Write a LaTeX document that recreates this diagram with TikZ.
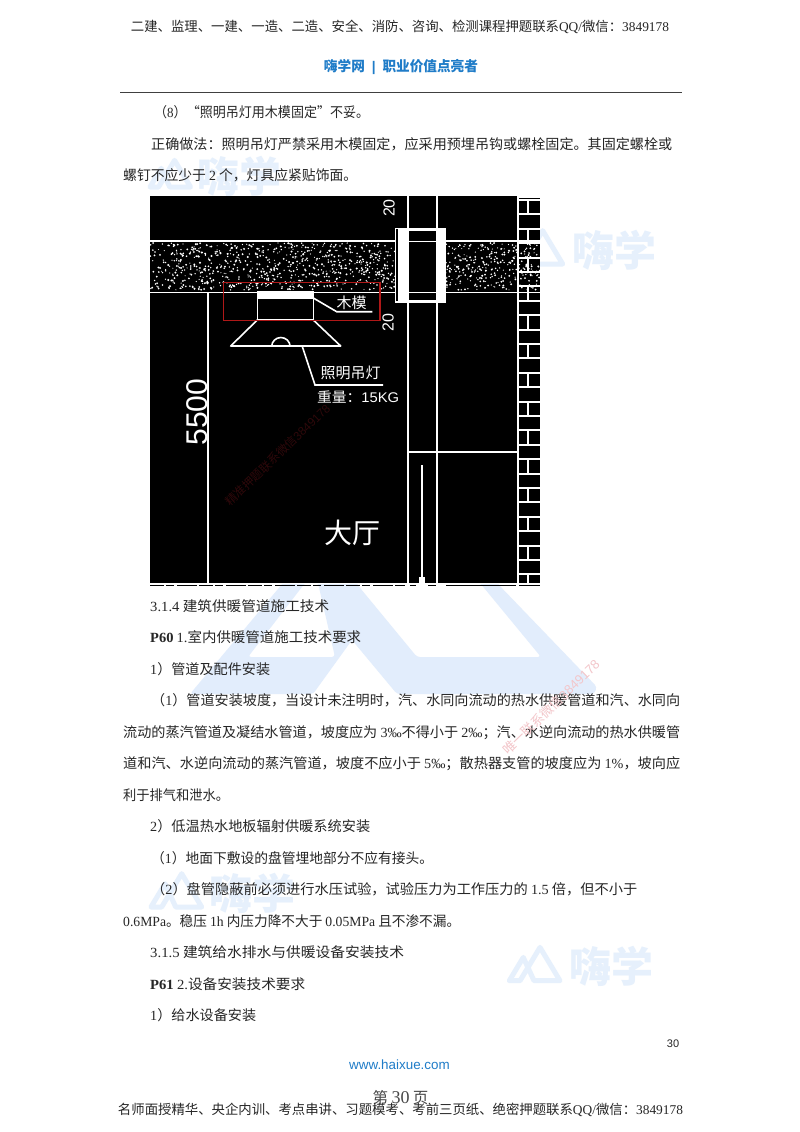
\documentclass[tikz,border=0pt]{standalone}
\usepackage{fontspec}
\usepackage{graphicx}
\setmainfont{Noto Sans CJK SC}
\newfontfamily\latf{Liberation Serif}
\newfontfamily\serb{Liberation Serif}[BoldFont={Liberation Serif Bold}]
\newfontfamily\sansl{Liberation Sans}
\newcommand\lat[1]{{\latf #1}}
\newcommand\pbold[1]{{\serb\bfseries #1}}
\definecolor{textcol}{HTML}{262626}
\definecolor{headblue}{HTML}{1F7CC8}
\definecolor{bigblue}{HTML}{E2EDFC}
\definecolor{wmblue}{HTML}{E6F0FC}
\definecolor{framered}{HTML}{B01818}
\definecolor{darkwm}{HTML}{2E080A}
\definecolor{pinkwm}{HTML}{F3C6CA}
\tikzset{
  tline/.style={anchor=west,inner sep=0pt,text=textcol,font=\fontsize{14}{16}\selectfont,text height=12pt,text depth=2pt},
  cline/.style={anchor=center,inner sep=0pt,text=textcol,font=\fontsize{13.4}{16}\selectfont},
  wall/.style={draw=white,line width=1.9pt},
  leader/.style={draw=white,line width=1.6pt},
  cad/.style={inner sep=0pt,text=white,font=\fontsize{15}{17}\selectfont},
  wmstroke/.style={draw=wmblue,line width=5pt,line join=round},
  wmtext/.style={inner sep=0pt,text=wmblue,font=\bfseries\fontsize{42}{44}\selectfont},
}
\newcommand\wmark[7]{%
  \begin{scope}[shift={(#1,#2)},scale=#3]
    \draw[wmstroke] (0,0)--(14,-23.3)--(24.7,0)--(50.7,0)--(30.7,-33.3)--(10.7,0)--cycle;
  \end{scope}
  \node[wmtext] (#7) at (#4,#5) {\resizebox{#6}{\height}{嗨学}};
}
\newcommand\tl[5]{\node[tline] (#1) at (#2,#3) {\resizebox{#4}{\height}{#5}};}
\begin{document}
\begin{tikzpicture}[x=1pt,y=-1pt]
\useasboundingbox (0,0) rectangle (800,1132);
\fill[white] (0,0) rectangle (800,1132);
% --- large logo watermark
\fill[bigblue,even odd rule,rounded corners=3pt]
  (190,694) -- (283,583) -- (300,560) -- (497,560) -- (497,583) -- (597,687) -- (594,694) -- (397,694) -- (352,640) -- (313,694) -- cycle
  (248,657) -- (335,657) -- (318,583) -- (305,583) -- cycle
  (417,657) -- (541,657) -- (480,583) -- (356,583) -- cycle;
% --- small logo watermarks
\wmark{150}{187}{0.8}{239}{176}{84pt}{wmA}
\wmark{512}{264}{1}{614}{250}{84pt}{wmB}
\wmark{151}{907}{1}{252}{893}{86pt}{wmC}
\wmark{509.3}{980.7}{1}{611}{966}{84pt}{wmD}
% --- header
\node[cline] (hA) at (400,26.5) {\resizebox{538pt}{\height}{二建、监理、一建、一造、二造、安全、消防、咨询、检测课程押题联系\lat{QQ/}微信：\lat{3849178}}};
\node[cline,text=headblue,font=\bfseries\fontsize{14}{16}\selectfont] (hB) at (401,66.5) {\resizebox{154pt}{\height}{嗨学网 {\sansl\bfseries\ |\ } 职业价值点亮者}};
\draw[color=black!75,line width=1pt] (120,92) -- (682,92);
% --- body text above the figure
\tl{a1}{154}{112}{215pt}{（\lat{8}）“照明吊灯用木模固定”不妥。}
\tl{a2}{151}{144}{521pt}{正确做法：照明吊灯严禁采用木模固定，应采用预埋吊钩或螺栓固定。其固定螺栓或}
\tl{a3}{123}{175}{234pt}{螺钉不应少于 \lat{2} 个，灯具应紧贴饰面。}
% --- figure
\fill[black] (150,196) rectangle (540,583);
% slab outlines
\draw[wall] (150,241) -- (395,241);
\draw[wall] (445,241) -- (540,241);
\draw[wall] (150,292.5) -- (395,292.5);
\draw[wall] (445,292.5) -- (540,292.5);
% slab aggregate
\pgfmathsetseed{4217}
\foreach \i in {1,...,780}{
  \pgfmathsetmacro\dx{150+245*rnd}
  \pgfmathsetmacro\dy{243+47*rnd}
  \pgfmathsetmacro\dr{0.55+0.55*rnd}
  \fill[white] (\dx,\dy) circle[radius=\dr pt];
}
\foreach \i in {1,...,230}{
  \pgfmathsetmacro\dx{445+72*rnd}
  \pgfmathsetmacro\dy{243+47*rnd}
  \pgfmathsetmacro\dr{0.55+0.55*rnd}
  \fill[white] (\dx,\dy) circle[radius=\dr pt];
}
\foreach \i in {1,...,70}{
  \pgfmathsetmacro\dx{519+21*rnd}
  \pgfmathsetmacro\dy{243+47*rnd}
  \pgfmathsetmacro\dr{0.55+0.55*rnd}
  \fill[white] (\dx,\dy) circle[radius=\dr pt];
}
% brick wall
\draw[wall] (518,196) -- (518,583);
\foreach \k in {0,...,26}{
  \pgfmathsetmacro\yy{200+14.4*\k}
  \draw[wall] (518,\yy) -- (540,\yy);
}
\draw[wall] (518,196.8) -- (540,196.8);
\foreach \k in {0,...,13}{
  \pgfmathsetmacro\ya{200+28.8*\k}
  \pgfmathsetmacro\yb{min(\ya+14.4,583)}
  \draw[wall] (527.7,\ya) -- (527.7,\yb);
}
% shaft and sleeve
\draw[wall] (407.7,196) -- (407.7,583);
\draw[wall] (436.7,196) -- (436.7,583);
\draw[wall,line width=1.4pt] (395.5,228.5) rectangle (445,302);
\fill[white] (398,228) rectangle (408,302);
\fill[white] (437,228) rectangle (445,302);
\fill[white] (408,228) rectangle (437,231);
\fill[white] (408,299.5) rectangle (437,302);
\draw[white,line width=0.8pt] (408,241) -- (437,241);
\draw[white,line width=0.8pt] (408,292.5) -- (437,292.5);
\draw[wall] (407.7,452.3) -- (518,452.3);
\coordinate (rodT) at (422,465);
\coordinate (rodB) at (422,577);
\draw[wall] (rodT) -- (rodB);
\fill[white] (419,577) rectangle (425,584);
% dim line and bottom edge
\coordinate (dimT) at (207.7,292.5);
\coordinate (dimB) at (207.7,583);
\draw[wall] (dimT) -- (dimB);
\fill[white] (150,583) rectangle (540,584.2);
\draw[black,line width=1pt,dash pattern=on 14pt off 2pt on 8pt off 3pt on 20pt off 2pt] (150,585) -- (405,585);
\draw[black,line width=1pt] (410,585) -- (416,585) (428,585) -- (436,585) (446,585) -- (516,585) (519,585) -- (540,585);
% lamp
\fill[white] (257.3,292) rectangle (313.3,299.3);
\draw[leader] (257.3,292) rectangle (313.3,320);
\draw[leader,line join=round] (257.3,320) -- (230.7,346) -- (340.7,346) -- (313.3,320);
\draw[leader] (271.7,346.5) arc[start angle=180,end angle=360,x radius=9.2,y radius=9];
% dark watermark
\node[inner sep=0pt,text=darkwm,rotate=44,font=\fontsize{11.8}{13}\selectfont] (wmE) at (277.5,455) {精准押题联系微信{\sansl 3849178}};
% red frame
\draw[framered,line width=1.2pt] (223.3,282.7) rectangle (380,320.7);
% CAD labels
\node[cad] (lbWood) at (351.7,302.7) {木模};
\coordinate (woodA) at (313.3,298);
\coordinate (woodB) at (336.7,311.7);
\coordinate (woodC) at (372.3,311.7);
\draw[leader] (woodA) -- (woodB) -- (woodC);
\node[cad] (lbLamp) at (350.5,372.5) {照明吊灯};
\coordinate (lampA) at (302.3,346.5);
\coordinate (lampB) at (315,385);
\coordinate (lampC) at (383,385);
\draw[leader] (lampA) -- (lampB) -- (lampC);
\node[cad,anchor=west,font=\fontsize{14}{16}\selectfont] (lbKg) at (317,396.7) {\resizebox{82pt}{\height}{重量：{\sansl 15KG}}};
\node[cad,rotate=90,font=\sansl\fontsize{16}{18}\selectfont] (dimA) at (389,208) {20};
\node[cad,rotate=90,font=\sansl\fontsize{16}{18}\selectfont] (dimC) at (388,322.7) {20};
\node[cad,rotate=90,font=\sansl\fontsize{30}{32}\selectfont] (dimD) at (197,412) {5500};
\node[cad,font=\fontsize{28}{30}\selectfont] (lbHall) at (352,532.7) {大厅};
% --- body text below the figure
\tl{b1}{150}{606}{179pt}{\lat{3.1.4} 建筑供暖管道施工技术}
\tl{b2}{150}{637}{211pt}{\pbold{P60} \lat{1.}室内供暖管道施工技术要求}
\tl{b3}{150}{669}{120pt}{\lat{1}）管道及配件安装}
\tl{b4}{151}{700}{529pt}{（\lat{1}）管道安装坡度，当设计未注明时，汽、水同向流动的热水供暖管道和汽、水同向}
\tl{b5}{123}{732}{557pt}{流动的蒸汽管道及凝结水管道，坡度应为 \lat{3‰}不得小于 \lat{2‰}；汽、水逆向流动的热水供暖管}
\tl{b6}{123}{763}{557pt}{道和汽、水逆向流动的蒸汽管道，坡度不应小于 \lat{5‰}；散热器支管的坡度应为 \lat{1\%}，坡向应}
\tl{b7}{123}{795}{106pt}{利于排气和泄水。}
\tl{b8}{150}{826}{220pt}{\lat{2}）低温热水地板辐射供暖系统安装}
\tl{b9}{151}{858}{282pt}{（\lat{1}）地面下敷设的盘管埋地部分不应有接头。}
\tl{b10}{151}{889}{486pt}{（\lat{2}）盘管隐蔽前必须进行水压试验，试验压力为工作压力的 \lat{1.5} 倍，但不小于}
\tl{b11}{123}{921}{337pt}{\lat{0.6MPa}。稳压 \lat{1h} 内压力降不大于 \lat{0.05MPa} 且不渗不漏。}
\tl{b12}{150}{952}{254pt}{\lat{3.1.5} 建筑给水排水与供暖设备安装技术}
\tl{b13}{150}{984}{155pt}{\pbold{P61} \lat{2.}设备安装技术要求}
\tl{b14}{150}{1015}{106pt}{\lat{1}）给水设备安装}
% pink watermark
\node[inner sep=0pt,text=pinkwm,rotate=44,font=\fontsize{13}{15}\selectfont] (wmF) at (551,707) {唯一联系微信{\sansl 3849178}};
% --- footer
\node[inner sep=0pt,text=textcol,font=\sansl\fontsize{11}{13}\selectfont] (pg) at (673,1044) {30};
\node[inner sep=0pt,text=headblue,font=\sansl\fontsize{13.4}{15}\selectfont] (web) at (399.5,1065) {www.haixue.com};
\node[inner sep=0pt,text=textcol!85,font=\fontsize{15.5}{17}\selectfont] (pn) at (400.5,1098) {第 {\latf\fontsize{18}{20}\selectfont 30} 页};
\node[cline] (fA) at (400.5,1109.5) {\resizebox{565pt}{\height}{名师面授精华、央企内训、考点串讲、习题模考、考前三页纸、绝密押题联系\lat{QQ/}微信：\lat{3849178}}};
\end{tikzpicture}
\end{document}
